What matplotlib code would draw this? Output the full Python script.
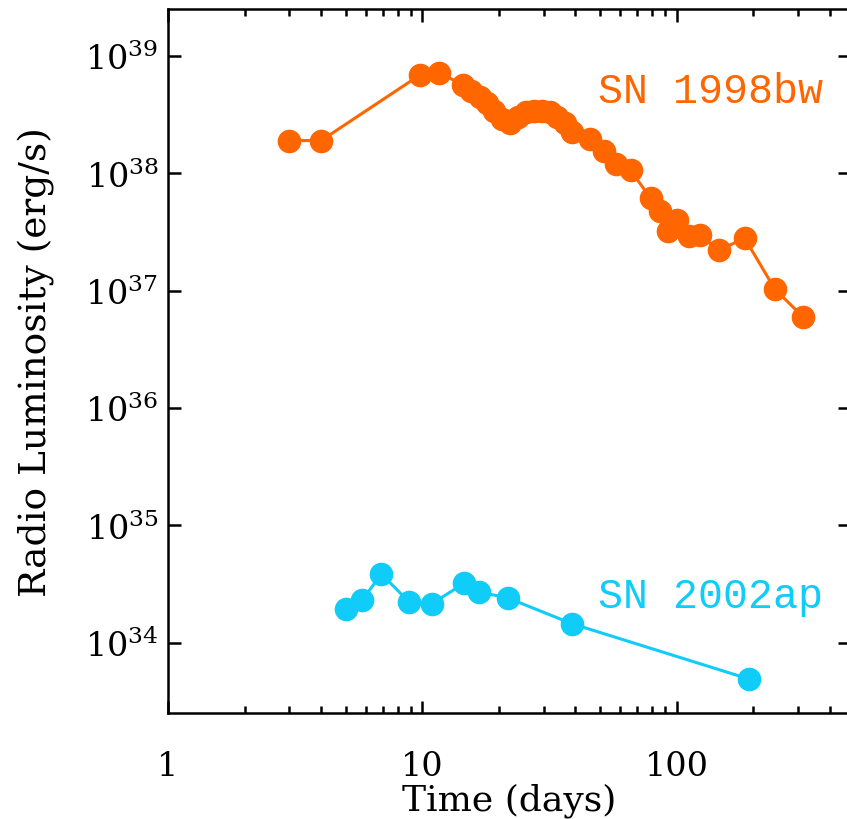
import math
import matplotlib
matplotlib.use("Agg")
import matplotlib.pyplot as plt
from matplotlib.ticker import FixedLocator, FuncFormatter, LogLocator, NullLocator

plt.rcParams['font.family'] = ['DejaVu Serif']
plt.rcParams['mathtext.fontset'] = 'dejavuserif'

# SN 1998bw
t_98bw = [3.0, 4.0, 9.8, 11.6, 14.4, 15.5, 16.8, 17.9, 19.1, 20.5, 22.1, 23.7, 25.5,
          27.4, 29.5, 31.7, 33.8, 36.3, 38.7, 45.5, 51.7, 57.6, 65.9, 79, 85.7, 92,
          100, 112, 124, 146, 185, 243, 313]
L_98bw = [1.9e38, 1.9e38, 6.9e38, 7.2e38, 5.7e38, 5.0e38, 4.5e38, 4.0e38, 3.4e38, 2.9e38,
          2.7e38, 3.0e38, 3.3e38, 3.4e38, 3.4e38, 3.3e38, 3.0e38, 2.7e38, 2.26e38, 1.97e38,
          1.56e38, 1.21e38, 1.06e38, 6.1e37, 4.8e37, 3.2e37, 4.0e37, 2.9e37, 2.95e37,
          2.2e37, 2.8e37, 1.03e37, 6.0e36]

# SN 2002ap
t_02ap = [5.0, 5.8, 6.9, 8.9, 10.9, 14.6, 16.7, 21.7, 38.7, 192]
L_02ap = [1.95e34, 2.3e34, 3.85e34, 2.2e34, 2.15e34, 3.2e34, 2.7e34, 2.4e34, 1.45e34, 4.9e33]

x_ticks = [1, 10, 100]
x_ticklabels = ['1', '10', '100']
y_exps = [34, 35, 36, 37, 38, 39]

orange = '#FF6600'
cyan = '#10CCF8'

fig = plt.figure(figsize=(8.47, 8.2), dpi=100)
ax = fig.add_axes([168/847, 1-714/820, 682/847, 704/820])

ax.plot(t_98bw, L_98bw, '-o', color=orange, lw=2.2, ms=16, mec=orange)
ax.plot(t_02ap, L_02ap, '-o', color=cyan, lw=2.2, ms=16, mec=cyan)

ax.set_xscale('log')
ax.set_yscale('log')
ax.set_xlim(1, 480)
ax.set_ylim(10**33.4, 10**39.4)

ax.xaxis.set_major_locator(FixedLocator(x_ticks))
ax.set_xticklabels(x_ticklabels)
ax.xaxis.set_minor_locator(LogLocator(base=10, subs=range(2, 10)))
ax.xaxis.set_minor_formatter(FuncFormatter(lambda v, p: ''))
ax.yaxis.set_major_locator(FixedLocator([10.0**e for e in y_exps]))
ax.yaxis.set_major_formatter(FuncFormatter(lambda v, p: r'$10^{%d}$' % round(math.log10(v))))
ax.yaxis.set_minor_locator(NullLocator())

for s in ax.spines.values():
    s.set_linewidth(1.8)
ax.tick_params(which='both', direction='in', top=True, right=True, width=1.8)
ax.tick_params(which='major', length=9)
ax.tick_params(which='minor', length=5)
ax.tick_params(axis='x', which='major', labelsize=24, pad=27)
ax.tick_params(axis='y', which='major', labelsize=24, pad=7)

ax.set_xlabel('Time (days)', fontsize=26, labelpad=0)
ax.set_ylabel('Radio Luminosity (erg/s)', fontsize=27)
ax.yaxis.set_label_coords(-0.166, 0.5)

ax.text(0.63, 0.884, 'SN 1998bw', transform=ax.transAxes, color=orange, fontsize=30,
        ha='left', va='center', family='Liberation Mono')
ax.text(0.63, 0.166, 'SN 2002ap', transform=ax.transAxes, color=cyan, fontsize=30,
        ha='left', va='center', family='Liberation Mono')

fig.savefig('out.png', dpi=100)
